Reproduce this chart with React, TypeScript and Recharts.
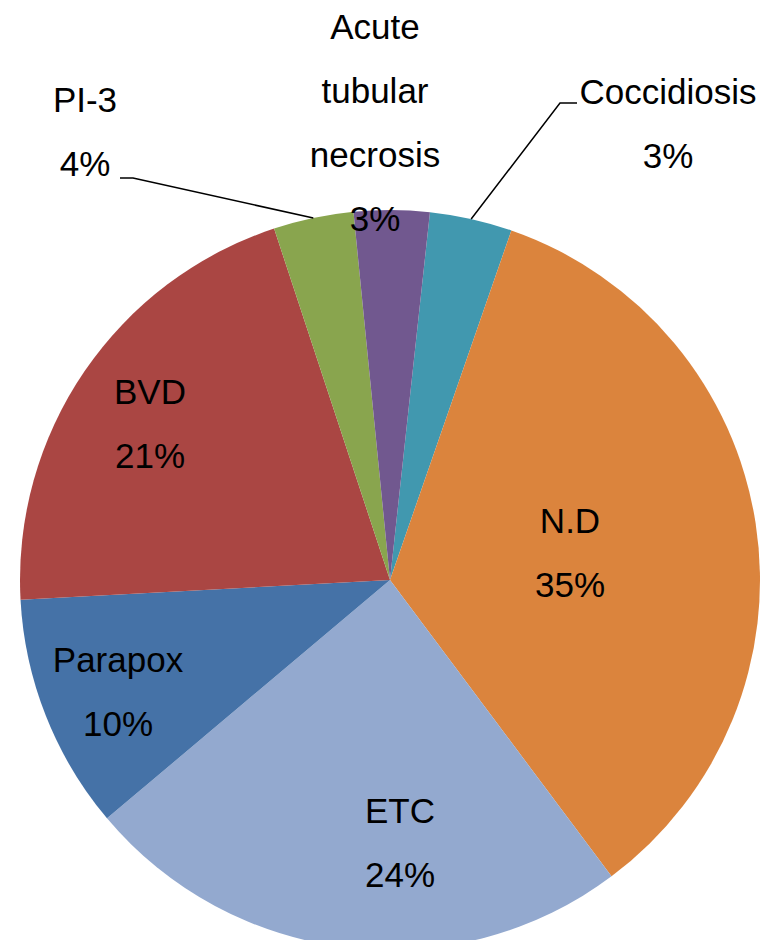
import { PieChart, Pie, Cell } from "recharts";

const names = ["Coccidiosis", "N.D", "ETC", "Parapox", "BVD", "PI-3", "Acute tubular necrosis"];
const shares = [3.6, 34.5, 24.1, 10.3, 20.8, 3.5, 3.3];
const pctLabels = ["3%", "35%", "24%", "10%", "21%", "4%", "3%"];
const colors = ["#4198AF", "#DB843D", "#93A9CF", "#4572A7", "#AA4643", "#89A54E", "#71588F"];

const data = names.map((name, i) => ({ name, value: shares[i], pct: pctLabels[i] }));

// label block centre, relative to the pie centre; leader = elbow + end of the callout line
const layout: Record<string, { dx: number; dy: number; leader?: [number, number, number, number] }> = {
  Coccidiosis: { dx: 278, dy: -457, leader: [170, -477, 187, -477] },
  "N.D": { dx: 180, dy: -28 },
  ETC: { dx: 10, dy: 262 },
  Parapox: { dx: -272, dy: 111 },
  BVD: { dx: -240, dy: -157 },
  "PI-3": { dx: -305, dy: -449, leader: [-257, -402, -270, -402] },
  "Acute tubular necrosis": { dx: -15, dy: -458 },
};

const RAD = Math.PI / 180;
const LINE = 64;

function renderLabel(props: any) {
  const { cx, cy, midAngle, outerRadius, name, payload } = props;
  const pos = layout[name];
  const lines = [...name.split(" "), payload.pct];
  const top = cy + pos.dy - ((lines.length - 1) * LINE) / 2;
  let leader = null;
  if (pos.leader) {
    const sx = cx + outerRadius * Math.cos(-midAngle * RAD);
    const sy = cy + outerRadius * Math.sin(-midAngle * RAD);
    const [ex, ey, fx, fy] = pos.leader;
    leader = (
      <polyline
        points={`${sx},${sy} ${cx + ex},${cy + ey} ${cx + fx},${cy + fy}`}
        fill="none"
        stroke="#000"
        strokeWidth={1.5}
      />
    );
  }
  return (
    <g>
      {leader}
      {lines.map((t: string, i: number) => (
        <text
          key={i}
          x={cx + pos.dx}
          y={top + i * LINE + 12.5}
          textAnchor="middle"
          fill="#000"
          fontSize={35}
          fontFamily="'Liberation Sans', Arial, sans-serif"
        >
          {t}
        </text>
      ))}
    </g>
  );
}

export default function App() {
  return (
    <div style={{ margin: -8, width: 772, height: 948, background: "#fff" }}>
      <PieChart width={772} height={948} margin={{ top: 0, right: 0, bottom: 0, left: 0 }}>
        <Pie
          data={data}
          dataKey="value"
          nameKey="name"
          cx={390}
          cy={580}
          outerRadius={370}
          startAngle={83.8}
          endAngle={-276.2}
          stroke="none"
          label={renderLabel}
          labelLine={false}
          isAnimationActive={false}
        >
          {data.map((d, i) => (
            <Cell key={d.name} fill={colors[i]} />
          ))}
        </Pie>
      </PieChart>
    </div>
  );
}
